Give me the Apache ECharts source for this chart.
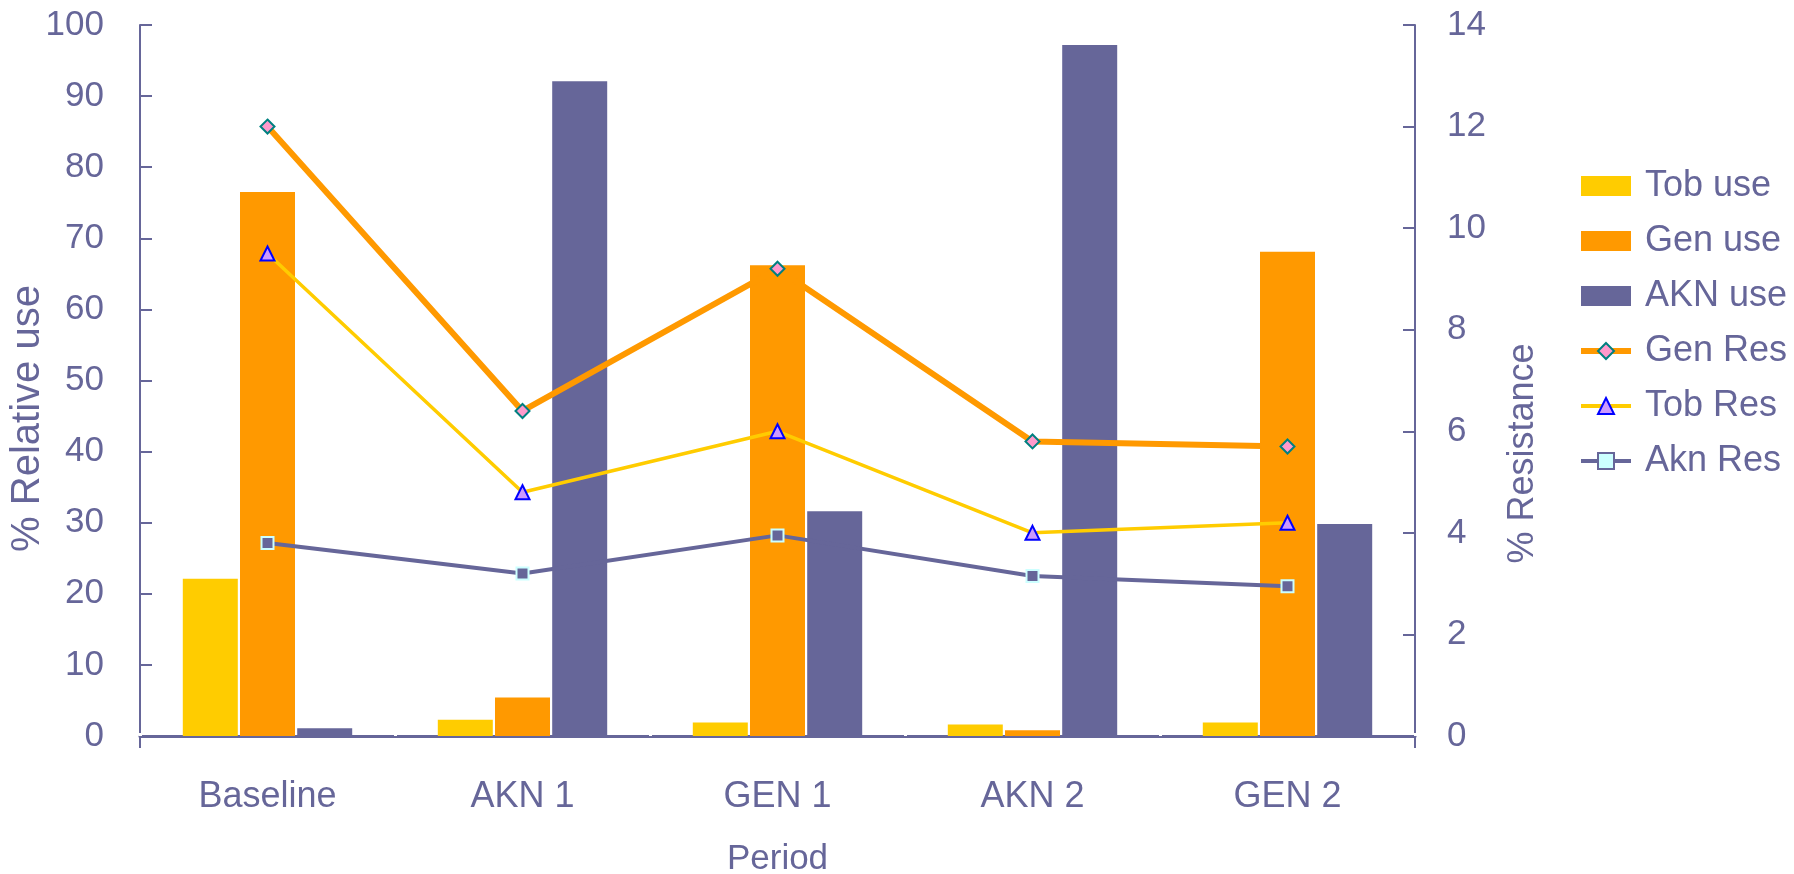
<!DOCTYPE html>
<html>
<head>
<meta charset="utf-8">
<script src="https://cdn.jsdelivr.net/npm/echarts@6/dist/echarts.min.js"></script>
<style>
  html, body { margin: 0; padding: 0; background: #fff; }
  #chart { width: 1794px; height: 874px; }
</style>
</head>
<body>
<div id="chart"></div>
<script>
// Study periods on the category axis
const periods = ['Baseline', 'AKN 1', 'GEN 1', 'AKN 2', 'GEN 2'];

// Relative antibiotic use, % (left axis)
const tobUse = [22.1, 2.3, 1.9, 1.6, 1.9];
const genUse = [76.5, 5.4, 66.2, 0.8, 68.1];
const aknUse = [1.1, 92.1, 31.6, 97.2, 29.8];

// Resistance, % (right axis)
const genRes = [12.0, 6.4, 9.2, 5.8, 5.7];
const tobRes = [9.5, 4.8, 6.0, 4.0, 4.2];
const aknRes = [3.8, 3.2, 3.95, 3.15, 2.95];

// Axis scales
const useScale = { min: 0, max: 100, interval: 10 };
const resScale = { min: 0, max: 14, interval: 2 };

const INK = '#666699';
const FONT = '"Liberation Sans", Arial, sans-serif';

const GRID = { left: 140, right: 379, top: 25, bottom: 138 };
const W = 1794;

const chart = echarts.init(document.getElementById('chart'), null, { renderer: 'canvas' });

const valueAxisBase = {
  type: 'value',
  nameLocation: 'middle',
  nameMoveOverlap: false,
  axisLine: { show: true, lineStyle: { color: INK, width: 2 } },
  axisTick: { show: true, inside: true, length: 12, lineStyle: { color: INK, width: 2 } },
  splitLine: { show: false },
  axisLabel: { color: INK, fontSize: 35, fontFamily: FONT },
  nameTextStyle: { color: INK, fontSize: 36, fontFamily: FONT }
};

const option = {
  backgroundColor: '#fff',
  animation: false,
  textStyle: { fontFamily: FONT },
  grid: Object.assign({ containLabel: false, outerBoundsMode: 'none' }, GRID),
  legend: {
    orient: 'vertical',
    left: 1578,
    top: 168,
    padding: 0,
    itemWidth: 50,
    itemHeight: 20,
    itemGap: 19,
    textStyle: { color: INK, fontSize: 36, fontFamily: FONT, padding: [0, 0, 0, 9] },
    data: [
      { name: 'Tob use', icon: 'rect' },
      { name: 'Gen use', icon: 'rect' },
      { name: 'AKN use', icon: 'rect' },
      { name: 'Gen Res', lineStyle: { width: 6 } },
      { name: 'Tob Res', lineStyle: { width: 4 } },
      { name: 'Akn Res', lineStyle: { width: 4 }, itemStyle: { color: '#ccffff', borderColor: INK, borderWidth: 2 } }
    ]
  },
  xAxis: {
    type: 'category',
    data: periods,
    name: 'Period',
    nameLocation: 'middle',
    nameMoveOverlap: false,
    nameGap: 106,
    nameTextStyle: { color: INK, fontSize: 35, fontFamily: FONT },
    axisLine: { show: true, lineStyle: { color: INK, width: 3 } },
    axisTick: { show: true, inside: true, length: 3, lineStyle: { color: '#fff', width: 3 } },
    axisLabel: { color: INK, fontSize: 36, fontFamily: FONT, margin: 43 }
  },
  yAxis: [
    Object.assign({}, valueAxisBase, useScale, {
      name: '% Relative use',
      position: 'left',
      nameGap: 92,
      axisLabel: Object.assign({}, valueAxisBase.axisLabel, { margin: 36 }),
      nameTextStyle: Object.assign({}, valueAxisBase.nameTextStyle, { fontSize: 40, padding: [0, 76, 0, 0] })
    }),
    Object.assign({}, valueAxisBase, resScale, {
      name: '% Resistance',
      position: 'right',
      nameGap: 90,
      axisLabel: Object.assign({}, valueAxisBase.axisLabel, { margin: 32 }),
      nameTextStyle: Object.assign({}, valueAxisBase.nameTextStyle, { padding: [0, 146, 0, 0] })
    })
  ],
  series: [
    { name: 'Tob use', type: 'bar', yAxisIndex: 0, data: tobUse, barWidth: 55, barGap: '4%',
      itemStyle: { color: '#ffcc00' } },
    { name: 'Gen use', type: 'bar', yAxisIndex: 0, data: genUse, barWidth: 55, barGap: '4%',
      itemStyle: { color: '#ff9900' } },
    { name: 'AKN use', type: 'bar', yAxisIndex: 0, data: aknUse, barWidth: 55, barGap: '4%',
      itemStyle: { color: INK } },
    { name: 'Gen Res', type: 'line', yAxisIndex: 1, data: genRes,
      symbol: 'diamond', symbolSize: 14, showAllSymbol: true,
      lineStyle: { color: '#ff9900', width: 6 },
      itemStyle: { color: '#ff99cc', borderColor: '#008080', borderWidth: 2 } },
    { name: 'Tob Res', type: 'line', yAxisIndex: 1, data: tobRes,
      symbol: 'triangle', symbolSize: 14, showAllSymbol: true,
      lineStyle: { color: '#ffcc00', width: 3.5 },
      itemStyle: { color: '#cc99ff', borderColor: '#0000ff', borderWidth: 2 } },
    { name: 'Akn Res', type: 'line', yAxisIndex: 1, data: aknRes,
      symbol: 'rect', symbolSize: 12, showAllSymbol: true,
      lineStyle: { color: INK, width: 4 },
      itemStyle: { color: INK, borderColor: '#ccffff', borderWidth: 2 } }
  ]
};

chart.setOption(option);

// Both value axes run a little past the category axis
const xl = GRID.left, xr = W - GRID.right;
const y0 = chart.convertToPixel({ yAxisIndex: 0 }, 0);
chart.setOption({
  graphic: [
    { type: 'line', shape: { x1: xl, y1: y0, x2: xl, y2: y0 + 12 }, style: { stroke: INK, lineWidth: 2 }, z: 10 },
    { type: 'line', shape: { x1: xr, y1: y0, x2: xr, y2: y0 + 12 }, style: { stroke: INK, lineWidth: 2 }, z: 10 }
  ]
});
</script>
</body>
</html>
